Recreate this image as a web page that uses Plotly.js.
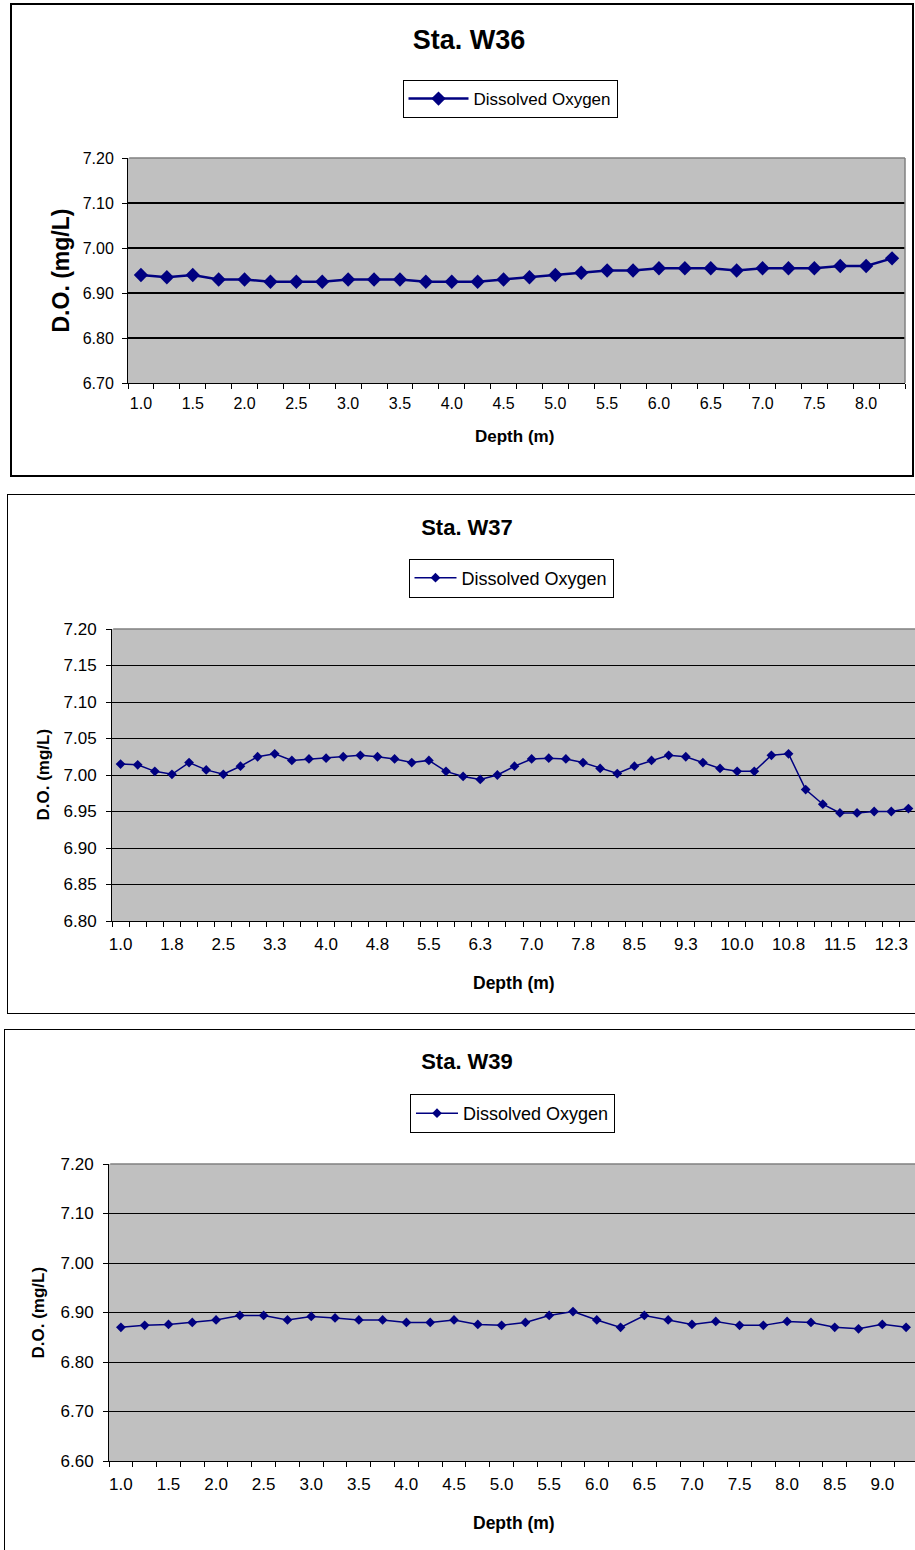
<!DOCTYPE html>
<html>
<head>
<meta charset="utf-8">
<script src="https://cdn.plot.ly/plotly-3.0.1.min.js"></script>
<style>
  html, body { margin:0; padding:0; background:#fff; overflow:hidden; width:915px; height:1550px; }
  .plot { position:absolute; }
  .frame { position:absolute; border:solid #000; box-sizing:border-box; pointer-events:none; background:transparent; }
</style>
</head>
<body>
<div id="c1" class="plot" style="left:0;top:0;width:915px;height:480px;"></div>
<div id="c2" class="plot" style="left:0;top:480px;width:930px;height:540px;"></div>
<div id="c3" class="plot" style="left:0;top:1020px;width:930px;height:530px;"></div>
<div class="frame" style="left:10px;top:3px;width:904px;height:474px;border-width:2px;"></div>
<div class="frame" style="left:7px;top:494px;width:1000px;height:520px;border-width:1.5px;"></div>
<div class="frame" style="left:4px;top:1029px;width:1000px;height:600px;border-width:1.5px;"></div>
<script>
// ---------- Data ----------
const depthsW36 = [1.00,1.25,1.50,1.75,2.00,2.25,2.50,2.75,3.00,3.25,3.50,3.75,4.00,4.25,4.50,4.75,5.00,5.25,5.50,5.75,6.00,6.25,6.50,6.75,7.00,7.25,7.50,7.75,8.00,8.25];
const doW36 = [6.940,6.935,6.940,6.930,6.930,6.925,6.925,6.925,6.930,6.930,6.930,6.925,6.925,6.925,6.930,6.935,6.940,6.945,6.950,6.950,6.955,6.955,6.955,6.950,6.955,6.955,6.955,6.960,6.960,6.977];
const tickDepthsW36 = [1.0,1.5,2.0,2.5,3.0,3.5,4.0,4.5,5.0,5.5,6.0,6.5,7.0,7.5,8.0];
const tickLabelsW36 = ['1.0','1.5','2.0','2.5','3.0','3.5','4.0','4.5','5.0','5.5','6.0','6.5','7.0','7.5','8.0'];

const depthsW37 = [1.00,1.25,1.50,1.75,2.00,2.25,2.50,2.75,3.00,3.25,3.50,3.75,4.00,4.25,4.50,4.75,5.00,5.25,5.50,5.75,6.00,6.25,6.50,6.75,7.00,7.25,7.50,7.75,8.00,8.25,8.50,8.75,9.00,9.25,9.50,9.75,10.00,10.25,10.50,10.75,11.00,11.25,11.50,11.75,12.00,12.25,12.50];
const doW37 = [7.015,7.014,7.005,7.001,7.017,7.007,7.001,7.012,7.025,7.029,7.020,7.022,7.023,7.025,7.027,7.025,7.022,7.017,7.020,7.005,6.998,6.994,7.000,7.012,7.022,7.023,7.022,7.017,7.009,7.002,7.012,7.020,7.027,7.025,7.017,7.009,7.005,7.005,7.027,7.029,6.980,6.960,6.948,6.948,6.950,6.950,6.954];
const tickDepthsW37 = [1.00,1.75,2.50,3.25,4.00,4.75,5.50,6.25,7.00,7.75,8.50,9.25,10.00,10.75,11.50,12.25];
const tickLabelsW37 = ['1.0','1.8','2.5','3.3','4.0','4.8','5.5','6.3','7.0','7.8','8.5','9.3','10.0','10.8','11.5','12.3'];

const depthsW39 = [1.00,1.25,1.50,1.75,2.00,2.25,2.50,2.75,3.00,3.25,3.50,3.75,4.00,4.25,4.50,4.75,5.00,5.25,5.50,5.75,6.00,6.25,6.50,6.75,7.00,7.25,7.50,7.75,8.00,8.25,8.50,8.75,9.00,9.25];
const doW39 = [6.870,6.874,6.876,6.880,6.885,6.894,6.894,6.885,6.892,6.889,6.885,6.885,6.880,6.880,6.885,6.876,6.874,6.880,6.894,6.902,6.885,6.870,6.894,6.885,6.876,6.882,6.874,6.874,6.882,6.880,6.870,6.867,6.876,6.870];
const tickDepthsW39 = [1.0,1.5,2.0,2.5,3.0,3.5,4.0,4.5,5.0,5.5,6.0,6.5,7.0,7.5,8.0,8.5,9.0];
const tickLabelsW39 = ['1.0','1.5','2.0','2.5','3.0','3.5','4.0','4.5','5.0','5.5','6.0','6.5','7.0','7.5','8.0','8.5','9.0'];

// ---------- Rendering ----------
const FONT = 'Liberation Sans, Arial, Helvetica, sans-serif';
const NAVY = '#000080';

function makeChart(id, o) {
  const trace = {
    x: o.depths, y: o.values, type: 'scatter', mode: 'lines+markers',
    name: 'Dissolved Oxygen',
    line: { color: NAVY, width: o.lineWidth },
    marker: { symbol: 'diamond', size: o.markerSize, color: NAVY }
  };
  const step = 0.25;
  const layout = {
    width: o.width, height: o.height,
    margin: o.margin,
    paper_bgcolor: 'rgba(0,0,0,0)',
    plot_bgcolor: '#C0C0C0',
    showlegend: true,
    font: { family: FONT, color: '#000' },
    title: {
      text: '<b>' + o.title + '</b>',
      font: { family: FONT, size: o.titleSize, color: '#000' },
      xref: 'container', yref: 'container', x: o.titleX, y: o.titleY,
      xanchor: 'center', yanchor: 'middle'
    },
    legend: {
      x: o.legX, y: o.legY, xanchor: 'center', yanchor: 'middle',
      bgcolor: '#fff', bordercolor: '#000', borderwidth: 1,
      itemwidth: o.legItemWidth,
      font: { family: FONT, size: o.legSize, color: '#000' }
    },
    xaxis: {
      type: 'linear',
      range: [o.depths[0] - step / 2, o.depths[o.depths.length - 1] + step / 2],
      tickmode: 'array', tickvals: o.tickDepths, ticktext: o.tickLabels,
      ticks: '', showgrid: false, zeroline: false,
      showline: true, linecolor: '#000', linewidth: 1,
      tickfont: { family: FONT, size: o.tickSize, color: '#000' },
      ticklabelstandoff: o.xStandoff,
      minor: { ticks: 'outside', ticklen: 5, tickwidth: 1, tickcolor: '#000',
               tick0: o.depths[0] - step / 2, dtick: step, showgrid: false },
      fixedrange: true
    },
    yaxis: {
      range: o.yRange, tick0: o.yRange[0], dtick: o.yStep, tickformat: '.2f',
      ticks: 'outside', ticklen: 5, tickwidth: 1, tickcolor: '#000',
      showgrid: true, gridcolor: '#000', gridwidth: o.gridWidth, zeroline: false,
      showline: true, linecolor: '#000', linewidth: 1,
      tickfont: { family: FONT, size: o.tickSize, color: '#000' },
      ticklabelstandoff: o.yStandoff,
      fixedrange: true
    },
    shapes: [
      { type: 'line', xref: 'paper', yref: 'paper', x0: 0.0015, x1: 1, y0: 1, y1: 1, line: { color: '#808080', width: 1.5 }, layer: 'above' },
      { type: 'line', xref: 'paper', yref: 'paper', x0: 1, x1: 1, y0: 0, y1: 1, line: { color: '#808080', width: 1.5 }, layer: 'above' }
    ],
    annotations: [
      { text: '<b>D.O. (mg/L)</b>', xref: 'paper', yref: 'paper', x: 0, y: o.yTitleY, xanchor: 'center', yanchor: 'middle',
        xshift: o.yTitleShift, textangle: -90, showarrow: false, font: { family: FONT, size: o.yTitleSize, color: '#000' } },
      { text: '<b>Depth (m)</b>', xref: 'paper', yref: 'paper', x: o.xTitleX, y: 0, xanchor: 'center', yanchor: 'middle',
        yshift: o.xTitleShift, showarrow: false, font: { family: FONT, size: o.xTitleSize, color: '#000' } }
    ]
  };
  Plotly.newPlot(id, [trace], layout, { staticPlot: true, displayModeBar: false });
}

makeChart('c1', {
  depths: depthsW36, values: doW36, tickDepths: tickDepthsW36, tickLabels: tickLabelsW36,
  width: 915, height: 480, margin: { l: 128, r: 10, t: 158, b: 97, pad: 0 },
  title: 'Sta. W36', titleSize: 27, titleX: 469 / 915, titleY: 1 - 40 / 480,
  legX: (510 - 128) / 777, legY: (383 - 99) / 225, legSize: 17, legItemWidth: 60,
  yRange: [6.7, 7.2], yStep: 0.1, gridWidth: 1.3,
  tickSize: 16, xStandoff: 6, yStandoff: 5,
  lineWidth: 2.5, markerSize: 11,
  yTitleY: 0.5, yTitleShift: 60 - 128, yTitleSize: 23,
  xTitleX: (514 - 128) / 777, xTitleShift: -(436 - 383), xTitleSize: 17
});

makeChart('c2', {
  depths: depthsW37, values: doW37, tickDepths: tickDepthsW37, tickLabels: tickLabelsW37,
  width: 930, height: 540, margin: { l: 112, r: 13, t: 149, b: 99, pad: 0 },
  title: 'Sta. W37', titleSize: 22, titleX: 467 / 930, titleY: 1 - 47 / 540,
  legX: (511 - 112) / 805, legY: (921 - 578) / 292, legSize: 18, legItemWidth: 42,
  yRange: [6.8, 7.2], yStep: 0.05, gridWidth: 1,
  tickSize: 17, xStandoff: 8, yStandoff: 6,
  lineWidth: 1.5, markerSize: 7.5,
  yTitleY: 0.5, yTitleShift: 42.5 - 112, yTitleSize: 17,
  xTitleX: (514 - 112) / 805, xTitleShift: -(983 - 921), xTitleSize: 17.5
});

makeChart('c3', {
  depths: depthsW39, values: doW39, tickDepths: tickDepthsW39, tickLabels: tickLabelsW39,
  width: 930, height: 530, margin: { l: 109, r: 12, t: 144, b: 89, pad: 0 },
  title: 'Sta. W39', titleSize: 22, titleX: 467 / 930, titleY: 1 - 41 / 530,
  legX: (512.5 - 109) / 809, legY: (1461 - 1113.5) / 297, legSize: 18, legItemWidth: 42,
  yRange: [6.6, 7.2], yStep: 0.1, gridWidth: 1,
  tickSize: 17, xStandoff: 8, yStandoff: 6,
  lineWidth: 1.5, markerSize: 7.5,
  yTitleY: 0.5, yTitleShift: 38 - 109, yTitleSize: 17,
  xTitleX: (514 - 109) / 809, xTitleShift: -(1523 - 1461), xTitleSize: 17.5
});
</script>
</body>
</html>
